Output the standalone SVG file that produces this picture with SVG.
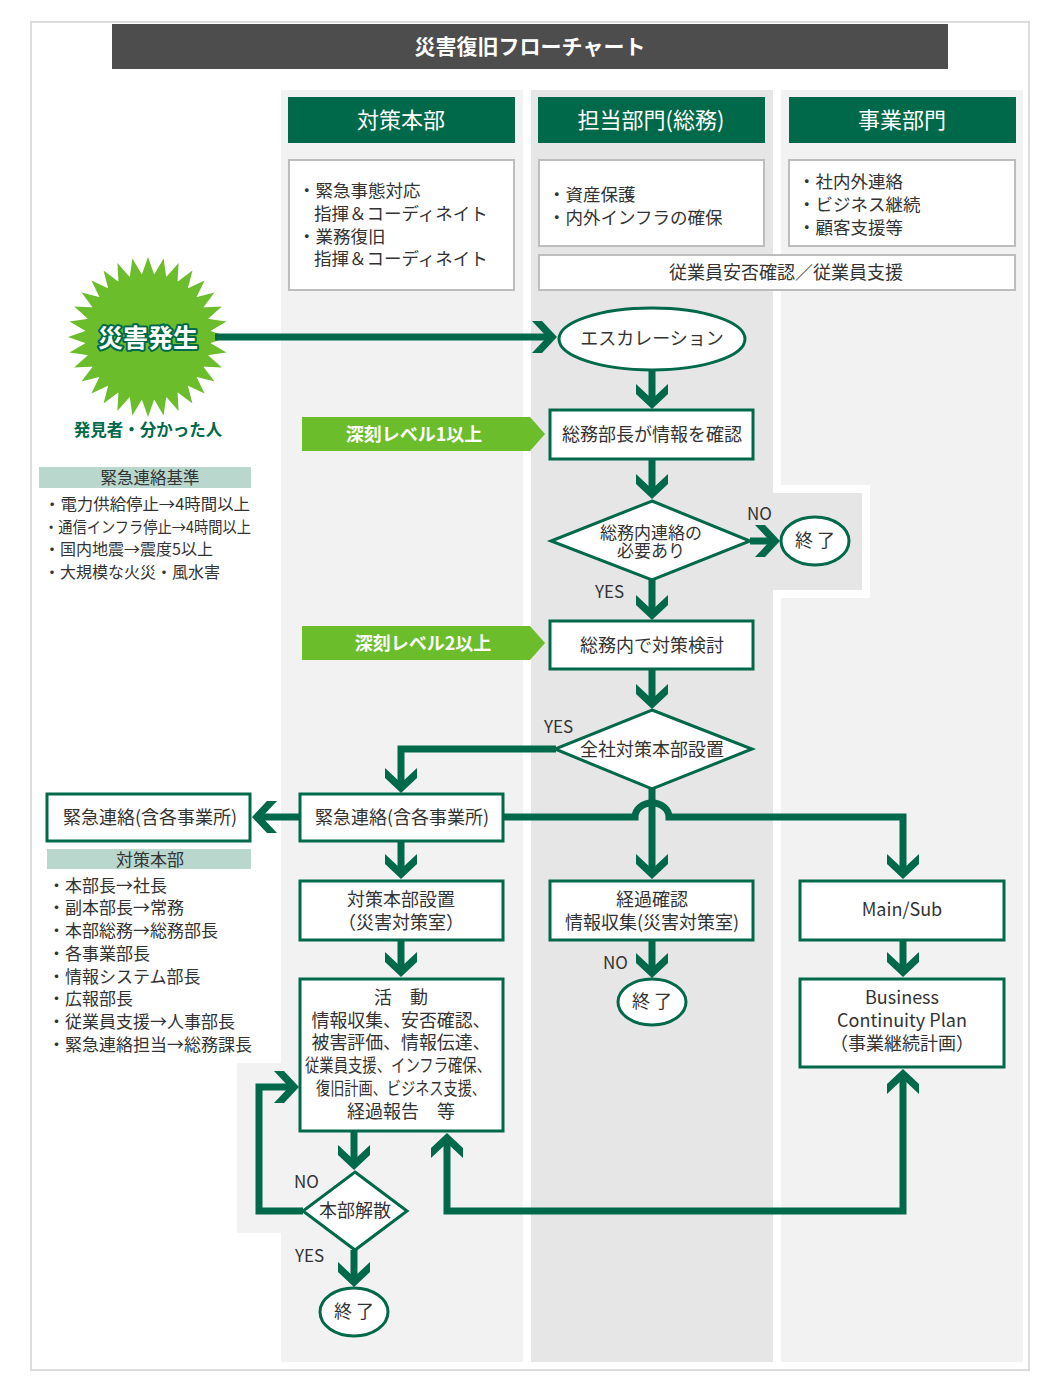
<svg xmlns="http://www.w3.org/2000/svg" xmlns:xlink="http://www.w3.org/1999/xlink" width="1060" height="1393" viewBox="0 0 1060 1393">
<style>
text{font-family:"Noto Sans CJK JP","Noto Sans",sans-serif;fill:#333;}
.n{fill:#fff;stroke:#00694a;stroke-width:3;}
.d{fill:#fff;stroke:#bdbdbd;stroke-width:2;}
.c{fill:none;stroke:#00694a;stroke-width:7;stroke-linejoin:miter;}
.t18{font-size:18px;text-anchor:middle;}
.t17{font-size:17px;}
.dl{font-size:17.5px;}
.t16{font-size:16px;}
.hd{font-size:22px;fill:#fff;text-anchor:middle;}
.lbl{font-size:17px;}
.ban{font-size:18px;font-weight:bold;fill:#fff;text-anchor:middle;}
</style>
<defs>
<path id="chev" d="M-16,-25 L-16,-15 L0,0 L16,-15 L16,-25 L0,-10 Z" fill="#00694a"/>
<path id="spk" d="M0,-80 L-7,-60 L7,-60 Z" fill="#6bbd2b"/>
</defs>
<rect width="1060" height="1393" fill="#fff"/>
<rect x="31" y="22" width="998" height="1348" fill="#fff" stroke="#dcdcdc" stroke-width="2"/>
<g id="title">
<rect x="112" y="24" width="836" height="45" fill="#4d4d4d"/>
<text x="530" y="54" font-size="21" font-weight="bold" text-anchor="middle" style="fill:#fff">災害復旧フローチャート</text>
</g>
<g id="lanes">
<rect x="281" y="90" width="242" height="1272" fill="#f2f2f2"/>
<rect x="237" y="1063" width="50" height="170" fill="#f2f2f2"/>
<rect x="781" y="90" width="242" height="1272" fill="#f2f2f2"/>
<rect x="531" y="90" width="242" height="1272" fill="#e6e6e6"/>
<rect x="773" y="485" width="97" height="113" fill="#fff"/>
<rect x="770" y="493" width="92" height="97" fill="#e6e6e6"/>
</g>
<g id="headers">
<rect x="288" y="97" width="227" height="46" fill="#00694a"/>
<text class="hd" x="401" y="128">対策本部</text>
<rect x="538" y="97" width="227" height="46" fill="#00694a"/>
<text class="hd" x="651" y="128">担当部門(総務)</text>
<rect x="789" y="97" width="227" height="46" fill="#00694a"/>
<text class="hd" x="902" y="128">事業部門</text>
</g>
<g id="desc1">
<rect class="d" x="289" y="160" width="225" height="130"/>
<text class="dl" x="298" y="197">・緊急事態対応</text>
<text class="dl" x="314" y="220">指揮＆コーディネイト</text>
<text class="dl" x="298" y="243">・業務復旧</text>
<text class="dl" x="314" y="265">指揮＆コーディネイト</text>
</g>
<g id="desc2">
<rect class="d" x="539" y="160" width="225" height="86"/>
<text class="dl" x="548" y="201">・資産保護</text>
<text class="dl" x="548" y="224">・内外インフラの確保</text>
</g>
<g id="desc3">
<rect class="d" x="789" y="160" width="226" height="86"/>
<text class="dl" x="798" y="188">・社内外連絡</text>
<text class="dl" x="798" y="211">・ビジネス継続</text>
<text class="dl" x="798" y="234">・顧客支援等</text>
</g>
<g id="desc4">
<rect class="d" x="539" y="255" width="476" height="35"/>
<text class="t18" x="786" y="279">従業員安否確認／従業員支援</text>
</g>
<g id="burst">
<circle cx="148" cy="337" r="63" fill="#6bbd2b"/>
<g transform="translate(148,337)">
<use href="#spk"/><use href="#spk" transform="rotate(11.25)"/><use href="#spk" transform="rotate(22.5)"/><use href="#spk" transform="rotate(33.75)"/>
<use href="#spk" transform="rotate(45)"/><use href="#spk" transform="rotate(56.25)"/><use href="#spk" transform="rotate(67.5)"/><use href="#spk" transform="rotate(78.75)"/>
<use href="#spk" transform="rotate(90)"/><use href="#spk" transform="rotate(101.25)"/><use href="#spk" transform="rotate(112.5)"/><use href="#spk" transform="rotate(123.75)"/>
<use href="#spk" transform="rotate(135)"/><use href="#spk" transform="rotate(146.25)"/><use href="#spk" transform="rotate(157.5)"/><use href="#spk" transform="rotate(168.75)"/>
<use href="#spk" transform="rotate(180)"/><use href="#spk" transform="rotate(191.25)"/><use href="#spk" transform="rotate(202.5)"/><use href="#spk" transform="rotate(213.75)"/>
<use href="#spk" transform="rotate(225)"/><use href="#spk" transform="rotate(236.25)"/><use href="#spk" transform="rotate(247.5)"/><use href="#spk" transform="rotate(258.75)"/>
<use href="#spk" transform="rotate(270)"/><use href="#spk" transform="rotate(281.25)"/><use href="#spk" transform="rotate(292.5)"/><use href="#spk" transform="rotate(303.75)"/>
<use href="#spk" transform="rotate(315)"/><use href="#spk" transform="rotate(326.25)"/><use href="#spk" transform="rotate(337.5)"/><use href="#spk" transform="rotate(348.75)"/>
</g>
<text x="148" y="347" font-size="25" font-weight="bold" text-anchor="middle" style="fill:#fff;stroke:#00694a;stroke-width:4;paint-order:stroke;stroke-linejoin:round">災害発生</text>
<text x="148" y="436" font-size="16.5" font-weight="bold" text-anchor="middle" style="fill:#00694a">発見者・分かった人</text>
</g>
<g id="criteria">
<rect x="39" y="467" width="212" height="21" fill="#b9d7cc"/>
<text x="150" y="484" font-size="16.5" text-anchor="middle">緊急連絡基準</text>
<text class="t16" x="44" y="510" textLength="206" lengthAdjust="spacingAndGlyphs">・電力供給停止→4時間以上</text>
<text class="t16" x="44" y="533" textLength="207" lengthAdjust="spacingAndGlyphs">・通信インフラ停止→4時間以上</text>
<text class="t16" x="44" y="555">・国内地震→震度5以上</text>
<text class="t16" x="44" y="578">・大規模な火災・風水害</text>
</g>
<g id="banner1">
<polygon points="302,417 530,417 545,434 530,451 302,451" fill="#6bbd2b"/>
<text class="ban" x="414" y="441">深刻レベル1以上</text>
</g>
<g id="banner2">
<polygon points="302,626 530,626 545,643 530,660 302,660" fill="#6bbd2b"/>
<text class="ban" x="423" y="650">深刻レベル2以上</text>
</g>
<g id="connectors">
<path class="c" d="M215,337 H548"/>
<use href="#chev" transform="translate(557,337) rotate(-90)"/>
<path class="c" d="M652,370 V400"/>
<use href="#chev" transform="translate(652,409)"/>
<path class="c" d="M652,459 V490"/>
<use href="#chev" transform="translate(652,499)"/>
<path class="c" d="M750,541 H771"/>
<use href="#chev" transform="translate(780,541) rotate(-90)"/>
<path class="c" d="M652,580 V611"/>
<use href="#chev" transform="translate(652,620)"/>
<path class="c" d="M652,669 V700"/>
<use href="#chev" transform="translate(652,709)"/>
<path class="c" d="M556,749 H401 V784"/>
<use href="#chev" transform="translate(401,793)"/>
<path class="c" d="M652,789 V870"/>
<use href="#chev" transform="translate(652,879)"/>
<path class="c" d="M503,817 H635 A17,14 0 0 1 669,817 H903 V870"/>
<use href="#chev" transform="translate(903,879)"/>
<path class="c" d="M300,817 H261"/>
<use href="#chev" transform="translate(252,817) rotate(90)"/>
<path class="c" d="M401,841 V870"/>
<use href="#chev" transform="translate(401,879)"/>
<path class="c" d="M401,940 V968"/>
<use href="#chev" transform="translate(401,977)"/>
<path class="c" d="M652,940 V969"/>
<use href="#chev" transform="translate(652,978)"/>
<path class="c" d="M903,940 V968"/>
<use href="#chev" transform="translate(903,977)"/>
<path class="c" d="M354,1131 V1161"/>
<use href="#chev" transform="translate(354,1170)"/>
<path class="c" d="M303,1211 H259 V1087 H290"/>
<use href="#chev" transform="translate(299,1087) rotate(-90)"/>
<path class="c" d="M354,1250 V1278"/>
<use href="#chev" transform="translate(354,1287)"/>
<path class="c" d="M903,1079 V1211 H447 V1143"/>
<use href="#chev" transform="translate(903,1069) rotate(180)"/>
<use href="#chev" transform="translate(447,1133) rotate(180)"/>
</g>
<g id="escalation">
<ellipse class="n" cx="652" cy="339" rx="93" ry="31"/>
<text class="t18" x="652" y="345">エスカレーション</text>
</g>
<g id="confirm">
<rect class="n" x="550" y="410" width="203" height="49"/>
<text class="t18" x="652" y="441">総務部長が情報を確認</text>
</g>
<g id="dec1">
<polygon class="n" points="652,501 750,541 652,580 551,541"/>
<text class="t18" x="651" y="539" font-size="17" style="font-size:17px">総務内連絡の</text>
<text class="t18" x="651" y="557" style="font-size:17px">必要あり</text>
</g>
<g id="end1">
<ellipse class="n" cx="815" cy="541" rx="34" ry="24"/>
<text class="t18" x="815" y="547">終 了</text>
</g>
<g id="study">
<rect class="n" x="550" y="621" width="203" height="48"/>
<text class="t18" x="652" y="652">総務内で対策検討</text>
</g>
<g id="dec2">
<polygon class="n" points="652,710 752,749 652,789 555,749"/>
<text class="t18" x="652" y="756">全社対策本部設置</text>
</g>
<g id="emg1">
<rect class="n" x="300" y="794" width="203" height="47"/>
<text class="t18" x="402" y="824">緊急連絡(含各事業所)</text>
</g>
<g id="emg2">
<rect class="n" x="47" y="794" width="203" height="47"/>
<text class="t18" x="150" y="824">緊急連絡(含各事業所)</text>
</g>
<g id="hqlist">
<rect x="47" y="849" width="204" height="20" fill="#b9d7cc"/>
<text x="150" y="866" font-size="17" text-anchor="middle">対策本部</text>
<text class="t17" x="48" y="892">・本部長→社長</text>
<text class="t17" x="48" y="914">・副本部長→常務</text>
<text class="t17" x="48" y="937">・本部総務→総務部長</text>
<text class="t17" x="48" y="960">・各事業部長</text>
<text class="t17" x="48" y="983">・情報システム部長</text>
<text class="t17" x="48" y="1005">・広報部長</text>
<text class="t17" x="48" y="1028">・従業員支援→人事部長</text>
<text class="t17" x="48" y="1051">・緊急連絡担当→総務課長</text>
</g>
<g id="hqset">
<rect class="n" x="300" y="881" width="203" height="59"/>
<text class="t18" x="401" y="906">対策本部設置</text>
<text class="t18" x="401" y="929">（災害対策室）</text>
</g>
<g id="progress">
<rect class="n" x="550" y="881" width="203" height="59"/>
<text class="t18" x="652" y="906">経過確認</text>
<text class="t18" x="652" y="929">情報収集(災害対策室)</text>
</g>
<g id="end2">
<ellipse class="n" cx="652" cy="1002" rx="34" ry="23"/>
<text class="t18" x="652" y="1008">終 了</text>
</g>
<g id="mainsub">
<rect class="n" x="800" y="881" width="204" height="59"/>
<text class="t18" x="902" y="916">Main/Sub</text>
</g>
<g id="bcp">
<rect class="n" x="800" y="979" width="204" height="88"/>
<text class="t18" x="902" y="1004">Business</text>
<text class="t18" x="902" y="1027">Continuity Plan</text>
<text class="t18" x="902" y="1050">（事業継続計画）</text>
</g>
<g id="activity">
<rect class="n" x="300" y="979" width="203" height="152"/>
<text class="t18" x="401" y="1004">活　動</text>
<text class="t18" x="401" y="1027" textLength="179" lengthAdjust="spacingAndGlyphs">情報収集、安否確認、</text>
<text class="t18" x="401" y="1049" textLength="179" lengthAdjust="spacingAndGlyphs">被害評価、情報伝達、</text>
<text class="t18" x="398" y="1072" textLength="186" lengthAdjust="spacingAndGlyphs">従業員支援、インフラ確保、</text>
<text class="t18" x="401" y="1095" textLength="170" lengthAdjust="spacingAndGlyphs">復旧計画、ビジネス支援、</text>
<text class="t18" x="401" y="1118">経過報告　等</text>
</g>
<g id="dec3">
<polygon class="n" points="355,1172 407,1211 355,1250 303,1211"/>
<text class="t18" x="355" y="1217">本部解散</text>
</g>
<g id="end3">
<ellipse class="n" cx="354" cy="1312" rx="34" ry="24"/>
<text class="t18" x="354" y="1318">終 了</text>
</g>
<g id="labels">
<text class="lbl" x="747" y="520">NO</text>
<text class="lbl" x="595" y="598">YES</text>
<text class="lbl" x="544" y="733">YES</text>
<text class="lbl" x="603" y="969">NO</text>
<text class="lbl" x="294" y="1188">NO</text>
<text class="lbl" x="295" y="1262">YES</text>
</g>
</svg>
